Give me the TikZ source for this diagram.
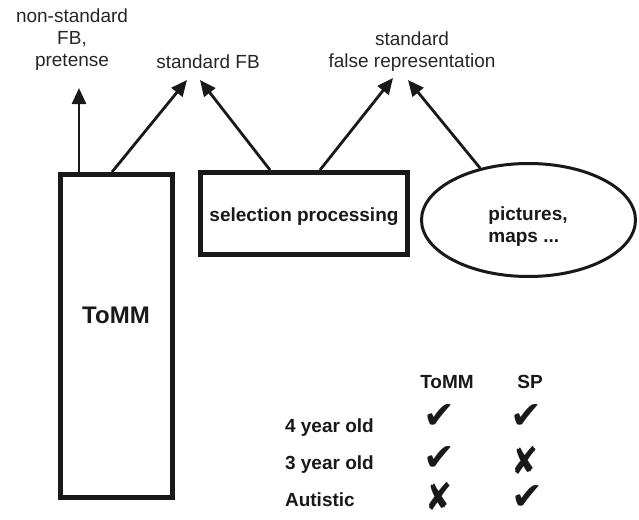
\documentclass[tikz,border=0pt]{standalone}
\usepackage{fontspec}
\setmainfont{Liberation Sans}
\newfontfamily\marksfont{DejaVu Sans}
\usetikzlibrary{arrows.meta,shapes.geometric,calc,positioning}

\begin{document}
\begin{tikzpicture}[x=0.5pt,y=-0.5pt,
       thickbox/.style={draw=black!90,line width=2.5pt,inner sep=0pt},
       arr/.style={draw=black!90,line width=1.4pt,-{Triangle[length=8pt,width=7pt]}},
       lbl/.style={font=\fontsize{9.5}{11}\selectfont,align=center,text=black!85},
       boxtext/.style={font=\fontsize{9.5}{11}\selectfont\bfseries,text=black!90},
       tick/.style={font=\marksfont\fontsize{19}{19}\selectfont,text=black!90,inner sep=0pt}]
       \useasboundingbox (0,0) rectangle (639,520);
       % the three modules
       \node[thickbox,minimum width=56pt,minimum height=161.5pt] (tomm) at (116.5,336) {};
       \node[boxtext,font=\fontsize{12}{14}\selectfont\bfseries] (tommlbl) at (116,315) {ToMM};
       \node[thickbox,minimum width=103.5pt,minimum height=41pt] (selproc) at (304,213.5) {};
       \node[boxtext] (sellbl) at (304,217) {selection processing};
       \node[ellipse,draw=black!90,line width=1.5pt,inner sep=0pt,minimum width=107pt,minimum height=56.5pt] (pics) at (528.5,220) {};
       \node[boxtext,align=left] (picslbl) at (528,227) {pictures,\\maps ...};
       % what they are used for
       \node[lbl] (nsfb) at (72,40) {non-standard\\FB,\\pretense};
       \node[lbl] (sfb) at (208,62) {standard FB};
       \node[lbl] (sfr) at (412,52) {standard\\false representation};
       \coordinate (nsfbtip) at (79,88);
       \coordinate (sfbtipA) at (187,80);
       \coordinate (sfbtipB) at (200,80);
       \coordinate (sfrtipA) at (393,78);
       \coordinate (sfrtipB) at (408,80);
       \draw[arr] ($(tomm.north west)+(21,0)$) -- (nsfbtip);
       \draw[arr] ($(tomm.north west)+(54,0)$) -- (sfbtipA);
       \draw[arr] ($(selproc.north west)+(72,0)$) -- (sfbtipB);
       \draw[arr] ($(selproc.north west)+(122,0)$) -- (sfrtipA);
       \draw[arr] (pics.133) -- (sfrtipB);
       % who has which module
       \node[boxtext] (hdtomm) at (447,382) {ToMM};
       \node[boxtext] (hdsp) at (530,382) {SP};
       \node[boxtext,anchor=west] (four) at (278,428) {4 year old};
       \node[boxtext,anchor=west] (three) at (278,465) {3 year old};
       \node[boxtext,anchor=west] (aut) at (278,500) {Autistic};
       \node[tick] (fourtomm) at (439,417) {✔};
       \node[tick] (foursp) at (526,417) {✔};
       \node[tick] (threetomm) at (439,459) {✔};
       \node[tick,xscale=0.85] (threesp) at (525,460) {✘};
       \node[tick,xscale=0.85] (auttomm) at (439,496) {✘};
       \node[tick] (autsp) at (527,498) {✔};
     \end{tikzpicture}
\end{document}
